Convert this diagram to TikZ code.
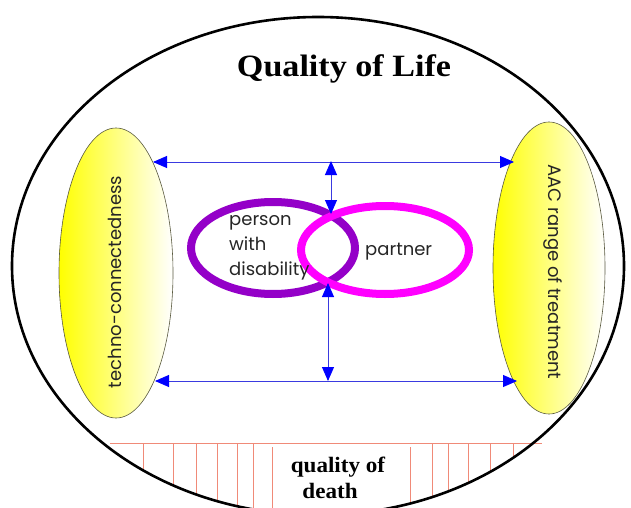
\documentclass[tikz,border=0pt]{standalone}
\usepackage{fontspec}
\setmainfont{Liberation Serif}
\newfontfamily\gothic{Poppins}
\usetikzlibrary{arrows.meta}
\definecolor{arrowblue}{HTML}{0000FF}
\definecolor{lineblue}{HTML}{3A3AE0}
\definecolor{violetring}{HTML}{9400C8}
\definecolor{magentaring}{HTML}{FF00FF}
\definecolor{hatchred}{HTML}{F08A78}
\definecolor{yellowrim}{HTML}{5A5A40}
\tikzset{
  bigring/.style={draw=black, line width=2.6pt},
  yellowoval/.style={left color=yellow, right color=white, draw=yellowrim, line width=0.6pt},
  ring/.style={line width=8pt},
  hatchline/.style={draw=hatchred, line width=0.8pt},
  link/.style={draw=lineblue, line width=0.9pt, {Triangle[length=14pt,width=12pt,fill=arrowblue,color=arrowblue]}-{Triangle[length=14pt,width=12pt,fill=arrowblue,color=arrowblue]}},
  gothictext/.style={font=\gothic\fontsize{18}{25}\selectfont, inner sep=0pt, text=black!85},
  serifbold/.style={font=\bfseries, inner sep=0pt}
}
\begin{document}
\begin{tikzpicture}[x=1pt,y=-1pt]
\useasboundingbox (0,0) rectangle (631,508);
\fill[white] (0,0) rectangle (631,508);

% quality of death hatching
\begin{scope}
  \clip (318,266) ellipse [x radius=306, y radius=249];
  \foreach \xx in {143,173,196,217,237,253,432,448,468,490,513}
    \draw[hatchline] (\xx,443) -- (\xx,520);
  \foreach \xx in {272,410}
    \draw[hatchline] (\xx,447) -- (\xx,520);
\end{scope}
\draw[hatchline] (110,443) -- (542,443);

% outer boundary
\draw[bigring] (318,266) ellipse [x radius=306, y radius=249];

% yellow ovals
\shade[yellowoval] (116,273) ellipse [x radius=57, y radius=145];
\shade[yellowoval] (549,268) ellipse [x radius=56, y radius=146];

% rings
\draw[ring, violetring] (273,248) ellipse [x radius=82, y radius=46];
\draw[ring, magentaring] (385,250) ellipse [x radius=84, y radius=44];

% texts
\node[serifbold, font=\bfseries\fontsize{31}{36}\selectfont, anchor=base, xscale=1.1] (qol) at (344,77) {Quality of Life};
\node[gothictext, rotate=90] (tc) at (115,282) {techno-connectedness};
\node[gothictext, rotate=-90] (aac) at (553,272) {AAC range of treatment};
\node[gothictext, align=left, anchor=west] (pwd) at (229,248) {person\\with\\disability};
\node[gothictext, anchor=west] (partner) at (365,252) {partner};
\node[serifbold, font=\bfseries\fontsize{22}{25}\selectfont, anchor=base, xscale=1.05] (qod1) at (338,472) {quality of};
\node[serifbold, font=\bfseries\fontsize{22}{25}\selectfont, anchor=base, xscale=1.05] (qod2) at (330,498) {death};

% connectors
\coordinate (ltop) at (153,162);
\coordinate (rtop) at (514,162);
\coordinate (lbot) at (155,381);
\coordinate (rbot) at (517,381);
\coordinate (vtop1) at (331,161);
\coordinate (vtop2) at (331,214);
\coordinate (vbot1) at (328,283);
\coordinate (vbot2) at (328,381);
\draw[link] (ltop) -- (rtop);
\draw[link] (lbot) -- (rbot);
\draw[link] (vtop1) -- (vtop2);
\draw[link] (vbot1) -- (vbot2);
\end{tikzpicture}
\end{document}
